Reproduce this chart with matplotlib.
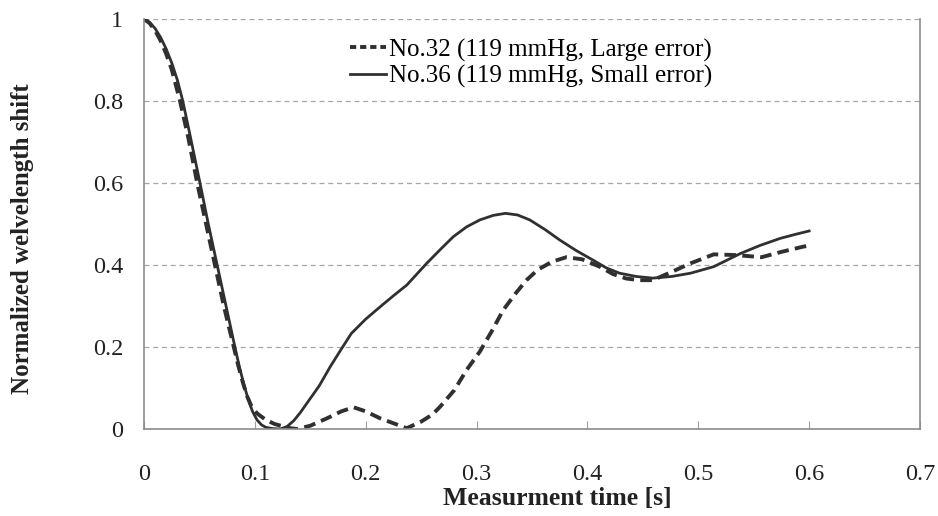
import matplotlib.pyplot as plt

# Normalized wavelength shift vs time
t32 = [0.0, 0.005, 0.010, 0.015, 0.020, 0.025, 0.0325, 0.040, 0.048, 0.056, 0.064, 0.072,
       0.081, 0.085, 0.089, 0.093, 0.097, 0.102, 0.110, 0.118, 0.126, 0.132, 0.138, 0.150,
       0.165, 0.178, 0.189, 0.200, 0.213, 0.225, 0.237, 0.250, 0.260, 0.267, 0.280, 0.291,
       0.303, 0.314, 0.324, 0.335, 0.345, 0.355, 0.368, 0.381, 0.395, 0.411, 0.423, 0.435,
       0.447, 0.459, 0.475, 0.493, 0.514, 0.535, 0.557, 0.575, 0.595, 0.600]
v32 = [1.0, 0.99, 0.972, 0.947, 0.915, 0.877, 0.80, 0.71, 0.60, 0.50, 0.40, 0.30,
       0.20, 0.155, 0.115, 0.08, 0.055, 0.038, 0.022, 0.012, 0.006, 0.002, 0.0, 0.008,
       0.026, 0.043, 0.053, 0.043, 0.026, 0.014, 0.002, 0.018, 0.035, 0.054, 0.095, 0.144,
       0.189, 0.24, 0.29, 0.33, 0.363, 0.388, 0.408, 0.419, 0.414, 0.396, 0.378, 0.367,
       0.363, 0.363, 0.382, 0.404, 0.426, 0.424, 0.419, 0.432, 0.445, 0.447]

t36 = [0.0, 0.005, 0.010, 0.015, 0.020, 0.025, 0.030, 0.035, 0.0415, 0.0505, 0.058, 0.066,
       0.074, 0.082, 0.086, 0.090, 0.094, 0.098, 0.102, 0.106, 0.110, 0.116, 0.123, 0.129,
       0.135, 0.141, 0.147, 0.158, 0.168, 0.178, 0.187, 0.200, 0.213, 0.225, 0.237, 0.255,
       0.267, 0.279, 0.291, 0.303, 0.315, 0.326, 0.337, 0.348, 0.362, 0.375, 0.390, 0.405,
       0.417, 0.429, 0.444, 0.459, 0.476, 0.493, 0.514, 0.538, 0.556, 0.574, 0.588, 0.600]
v36 = [1.0, 0.992, 0.977, 0.955, 0.927, 0.893, 0.852, 0.80, 0.717, 0.60, 0.50, 0.40,
       0.30, 0.20, 0.152, 0.11, 0.072, 0.042, 0.022, 0.010, 0.004, 0.001, 0.0, 0.006,
       0.02, 0.04, 0.063, 0.105, 0.152, 0.195, 0.233, 0.268, 0.298, 0.325, 0.351, 0.404,
       0.437, 0.469, 0.493, 0.510, 0.521, 0.526, 0.522, 0.510, 0.486, 0.461, 0.435, 0.412,
       0.393, 0.380, 0.372, 0.368, 0.372, 0.380, 0.396, 0.428, 0.448, 0.465, 0.475, 0.483]

xticks = [0, 0.1, 0.2, 0.3, 0.4, 0.5, 0.6, 0.7]
xtick_labels = ["0", "0.1", "0.2", "0.3", "0.4", "0.5", "0.6", "0.7"]
yticks = [0, 0.2, 0.4, 0.6, 0.8, 1]
ytick_labels = ["0", "0.2", "0.4", "0.6", "0.8", "1"]

plt.rcParams['font.family'] = ['Liberation Serif', 'DejaVu Serif']

fig = plt.figure(figsize=(9.38, 5.16), dpi=100)
ax = fig.add_axes([144 / 938, 1 - 429 / 516, (920 - 144) / 938, (429 - 19) / 516])

ax.plot(t32, v32, color='#303030', lw=2.8, dashes=(3.0, 1.6),
        label='No.32 (119 mmHg, Large error)')
ax.plot(t36, v36, color='#303030', lw=2.0,
        label='No.36 (119 mmHg, Small error)')

ax.set_xlim(0, 0.7)
ax.set_ylim(0, 1)
ax.set_xticks(xticks)
ax.set_xticklabels(xtick_labels)
ax.set_yticks(yticks)
ax.set_yticklabels(ytick_labels)

ax.grid(axis='y', linestyle=(0, (4, 3)), color='#a6a6a6', lw=0.9)
ax.set_axisbelow(True)

for side in ['left', 'bottom', 'right']:
    ax.spines[side].set_color('#8c8c8c')
    ax.spines[side].set_linewidth(1.2)
ax.spines['top'].set_visible(False)

ax.tick_params(axis='x', direction='in', length=6, color='#a0a0a0',
               labelsize=17.5, pad=25, labelcolor='#222222')
ax.tick_params(axis='y', length=0, labelsize=17.5, pad=15, labelcolor='#222222')

fig.text(443 / 938, 1 - 498 / 516, 'Measurment time [s]', fontsize=18.5,
         fontweight='bold', ha='left', va='center', color='#222222')
fig.text(23 / 938, 1 - 239 / 516, 'Normalized welvelength shift', fontsize=18,
         fontweight='bold', ha='center', va='center', rotation=90, color='#222222')

leg = ax.legend(loc='upper left', bbox_to_anchor=((352 - 144) / 776 - 0.025, 0.995),
                frameon=False, fontsize=18, handlelength=1.45, handletextpad=0.1,
                labelspacing=0.12, borderaxespad=0.3)
# three short dashes in the legend sample, as in the original
leg.get_lines()[0].set_dashes((1.6, 1.0))

fig.savefig('out.png', dpi=100)
